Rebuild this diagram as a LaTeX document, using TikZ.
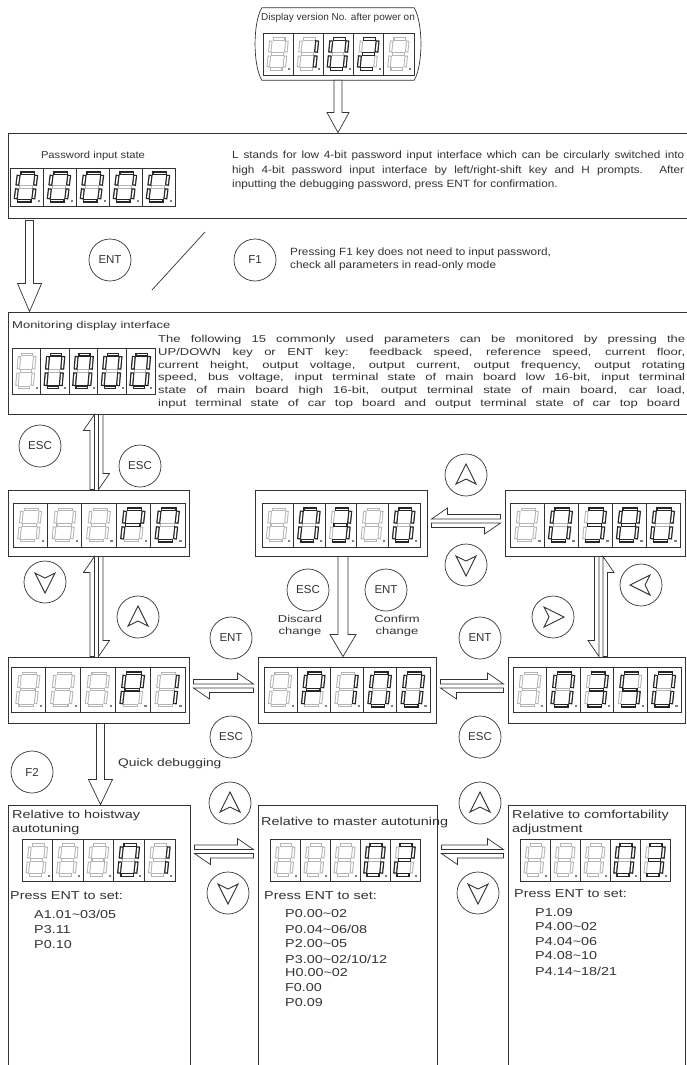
\documentclass[tikz,border=0pt]{standalone}
\usepackage{fontspec}
\setmainfont{Liberation Sans}
\newfontfamily\widesf[FakeStretch=1.25]{Liberation Sans}
\newfontfamily\monsf[FakeStretch=1.3]{Liberation Sans}
\newfontfamily\pwsf[FakeStretch=1.12]{Liberation Sans}
\usetikzlibrary{calc}
\definecolor{ink}{HTML}{333333}
\definecolor{segoffc}{HTML}{B4B4B4}
\tikzset{
 box/.style={draw=ink, line width=0.9pt, rectangle, inner sep=0pt},
 frame/.style={draw=ink, line width=0.7pt},
 key/.style={draw=ink, circle, line width=0.7pt, minimum size=42pt, inner sep=0pt, font=\fontsize{11.5}{12}\selectfont, text=ink},
 harrow/.style={draw=ink, line width=0.7pt, fill=white, line join=miter},
 chev/.style={draw=ink, line width=0.9pt, line join=miter},
 txt/.style={text=ink, inner sep=0pt, font=\pwsf\fontsize{10.5}{12}\selectfont},
 mtxt/.style={text=ink, inner sep=0pt, font=\monsf\fontsize{10}{12}\selectfont},
 wtxt/.style={text=ink, inner sep=0pt, font=\widesf\fontsize{11.5}{13}\selectfont},
 segoff/.style={draw=segoffc, line width=3.4pt, shorten <=1.6pt, shorten >=1.6pt},
 segon/.style={draw=black!85, line width=4pt, shorten <=1.4pt, shorten >=1.4pt},
 seginner/.style={draw=white, line width=1.5pt, shorten <=2.7pt, shorten >=2.7pt},
}
% seven segment template in a 30 x 42 cell
\def\sega{(8,6)--(24,6)}
\def\segb{(24,6)--(22.5,21)}
\def\segc{(22.5,21)--(21,36)}
\def\segd{(5,36)--(21,36)}
\def\sege{(6.5,21)--(5,36)}
\def\segf{(8,6)--(6.5,21)}
\def\segg{(6.5,21)--(22.5,21)}
\def\segn{(0,0)}
\expandafter\def\csname dign\endcsname{n}
\expandafter\def\csname dig0\endcsname{a,b,c,d,e,f}
\expandafter\def\csname dig1\endcsname{b,c}
\expandafter\def\csname dig2\endcsname{a,b,g,e,d}
\expandafter\def\csname dig3\endcsname{a,b,g,c,d}
\expandafter\def\csname dig5\endcsname{a,f,g,c,d}
\expandafter\def\csname dig8\endcsname{a,b,c,d,e,f,g}
\expandafter\def\csname digP\endcsname{a,b,f,g,e}
\expandafter\def\csname digL\endcsname{f,e,d}
\newcommand\sevdisp[5]{%
 \pgfmathsetmacro\cw{#3/5}\pgfmathsetmacro\sx{#3/150}\pgfmathsetmacro\sy{#4/42}%
 \begin{scope}[shift={(#1,#2)}]
  \foreach \dg [count=\i from 0] in {#5}{%
   \begin{scope}[shift={(\i*\cw,0)},xscale=\sx,yscale=\sy]
     \draw[frame] (0,0) rectangle (30,42);
     \foreach \s in {a,b,c,d,e,f,g}{\edef\cur{\csname seg\s\endcsname}\draw[segoff] \cur; \draw[seginner] \cur;}
     \edef\seglist{\csname dig\dg\endcsname}
     \foreach \s in \seglist{\edef\cur{\csname seg\s\endcsname}\draw[segon] \cur; \draw[seginner] \cur;}
     \fill[segoffc!70!black] (25,35.5) rectangle (27,37.5);
   \end{scope}}
 \end{scope}}
% big hollow down arrow: start, end, half shaft, half head, head length
\newcommand\bigdown[5]{%
 \draw[harrow] let \p1=(#1), \p2=(#2) in
  (\x1-#3pt,\y1) -- (\x1-#3pt,\y2+#5pt) -- (\x1-#4pt,\y2+#5pt) -- (\x1,\y2)
  -- (\x1+#4pt,\y2+#5pt) -- (\x1+#3pt,\y2+#5pt) -- (\x1+#3pt,\y1) -- cycle;}
% vertical pair: left up, right down
\newcommand\vpairUD[2]{%
 \draw[harrow] let \p1=(#1), \p2=(#2) in
  (\x1-2pt,\y2) -- (\x1-2pt,\y1) -- (\x1-13pt,\y1-16pt) -- (\x1-6.5pt,\y1-16pt) -- (\x1-6.5pt,\y2) -- cycle
  (\x1+2pt,\y1) -- (\x1+2pt,\y2) -- (\x1+13pt,\y2+16pt) -- (\x1+6.5pt,\y2+16pt) -- (\x1+6.5pt,\y1) -- cycle;}
% vertical pair: left down, right up
\newcommand\vpairDU[2]{%
 \draw[harrow] let \p1=(#1), \p2=(#2) in
  (\x1-2pt,\y1) -- (\x1-2pt,\y2) -- (\x1-13pt,\y2+16pt) -- (\x1-6.5pt,\y2+16pt) -- (\x1-6.5pt,\y1) -- cycle
  (\x1+2pt,\y2) -- (\x1+2pt,\y1) -- (\x1+13pt,\y1-16pt) -- (\x1+6.5pt,\y1-16pt) -- (\x1+6.5pt,\y2) -- cycle;}
% horizontal pair: top right-pointing, bottom left-pointing
\newcommand\hpairRL[2]{%
 \draw[harrow] let \p1=(#1), \p2=(#2) in
  (\x1,\y1+2pt) -- (\x2,\y1+2pt) -- (\x2-16pt,\y1+13pt) -- (\x2-16pt,\y1+6.5pt) -- (\x1,\y1+6.5pt) -- cycle
  (\x2,\y1-2pt) -- (\x1,\y1-2pt) -- (\x1+16pt,\y1-13pt) -- (\x1+16pt,\y1-6.5pt) -- (\x2,\y1-6.5pt) -- cycle;}
% horizontal pair: top left-pointing, bottom right-pointing
\newcommand\hpairLR[2]{%
 \draw[harrow] let \p1=(#1), \p2=(#2) in
  (\x2,\y1+2pt) -- (\x1,\y1+2pt) -- (\x1+16pt,\y1+13pt) -- (\x1+16pt,\y1+6.5pt) -- (\x2,\y1+6.5pt) -- cycle
  (\x1,\y1-2pt) -- (\x2,\y1-2pt) -- (\x2-16pt,\y1-13pt) -- (\x2-16pt,\y1-6.5pt) -- (\x1,\y1-6.5pt) -- cycle;}
\newcommand\chevup[1]{\draw[chev] (#1.center) ++(0,-11) -- ++(10,20) -- ++(-10,-5) -- ++(-10,5) -- cycle;}
\newcommand\chevdown[1]{\draw[chev] (#1.center) ++(0,11) -- ++(10,-20) -- ++(-10,5) -- ++(-10,-5) -- cycle;}
\newcommand\chevleft[1]{\draw[chev] (#1.center) ++(-11,0) -- ++(20,-10) -- ++(-5,10) -- ++(5,10) -- cycle;}
\newcommand\chevright[1]{\draw[chev] (#1.center) ++(11,0) -- ++(-20,-10) -- ++(5,10) -- ++(-5,10) -- cycle;}
\begin{document}
\begin{tikzpicture}[x=1pt,y=-1pt]
\useasboundingbox (0,0) rectangle (687,1065);
\fill[white] (0,0) rectangle (687,1065);

% ---------- top display ----------
\node[inner sep=0pt, minimum width=152pt, minimum height=72pt] (top) at (338,44) {};
\draw[frame] (top.north west) -- (top.north east) .. controls +(9,15) and +(9,-15) .. (top.south east)
  -- (top.south west) .. controls +(-9,-15) and +(-9,15) .. (top.north west);
\node[text=ink, inner sep=0pt, font=\fontsize{10}{11}\selectfont] (toptitle) at (338,18) {Display version No. after power on};
\sevdisp{263}{33}{151}{42}{n,1,0,2,n}

% ---------- password ----------
\node[box, minimum width=692pt, minimum height=85pt] (pw) at (354,175.5) {};
\node[txt, font=\pwsf\fontsize{10}{11}\selectfont] (pwlabel) at (93,156) {Password input state};
\sevdisp{10}{168}{165}{38}{0,0,0,0,0}
\node[txt, anchor=west] (pwt1) at (232,156) {\makebox[452pt][s]{L stands for low 4-bit password input interface which can be circularly switched into}};
\node[txt, anchor=west] (pwt2) at (232,171) {\makebox[452pt][s]{high 4-bit password input interface by left/right-shift key and H prompts. After}};
\node[txt, anchor=west] (pwt3) at (232,185) {inputting the debugging password, press ENT for confirmation.};

\bigdown{top.south}{pw.north}{4}{11}{20}

% ---------- ENT / F1 ----------
\node[box, minimum width=692pt, minimum height=102pt] (mon) at (354,363) {};
\bigdown{$(pw.south west)+(22,2)$}{$(mon.north west)+(22,0)$}{4}{12}{28}
\node[key] (ent1) at (110,260) {ENT};
\draw[frame] (152,290) -- (205,232);
\node[key] (f1) at (255,260) {F1};
\node[txt, anchor=west] (f1t1) at (290,253) {Pressing F1 key does not need to input password,};
\node[txt, anchor=west] (f1t2) at (290,266) {check all parameters in read-only mode};

% ---------- monitoring ----------
\node[mtxt, anchor=west] (montitle) at (12,326) {Monitoring display interface};
\sevdisp{12}{348}{143}{46}{n,0,0,0,0}
\node[mtxt, anchor=west] (m1) at (158,340) {\makebox[527pt][s]{The following 15 commonly used parameters can be monitored by pressing the}};
\node[mtxt, anchor=west] (m2) at (158,352.8) {\makebox[527pt][s]{UP/DOWN key or ENT key: feedback speed, reference speed, current floor,}};
\node[mtxt, anchor=west] (m3) at (158,365.6) {\makebox[527pt][s]{current height, output voltage, output current, output frequency, output rotating}};
\node[mtxt, anchor=west] (m4) at (158,378.4) {\makebox[527pt][s]{speed, bus voltage, input terminal state of main board low 16-bit, input terminal}};
\node[mtxt, anchor=west] (m5) at (158,391.2) {\makebox[527pt][s]{state of main board high 16-bit, output terminal state of main board, car load,}};
\node[mtxt, anchor=west] (m6) at (158,404) {\makebox[522pt][s]{input terminal state of car top board and output terminal state of car top board}};

% ---------- row 1 ----------
\node[box, minimum width=181pt, minimum height=66pt] (L1) at (98.5,523) {};
\node[box, minimum width=172pt, minimum height=66pt] (M1) at (341,523) {};
\node[box, minimum width=180pt, minimum height=66pt] (R1) at (595,523) {};
\sevdisp{13}{503}{172}{44}{n,n,n,P,0}
\sevdisp{262}{503}{158}{44}{n,0,3,n,0}
\sevdisp{510}{503}{170}{44}{n,0,3,8,0}

\node[key] (esc1) at (40,446) {ESC};
\node[key] (esc2) at (140,466) {ESC};
\vpairUD{$(mon.south -| L1.north)+(-2,0)$}{$(L1.north)+(-2,0)$}

\node[key] (upR) at (466,475) {}; \chevup{upR}
\node[key] (dnR) at (466,565) {}; \chevdown{dnR}
\hpairLR{$(M1.east)+(4,-2)$}{$(R1.west)+(-4,-2)$}

% ---------- row 2 ----------
\node[box, minimum width=181pt, minimum height=66pt] (L2) at (98.5,690) {};
\node[box, minimum width=178pt, minimum height=66pt] (M2) at (347,690) {};
\node[box, minimum width=177pt, minimum height=66pt] (R2) at (596.5,690) {};
\sevdisp{11}{667}{174}{45}{n,n,n,P,1}
\sevdisp{264}{667}{166}{45}{n,P,1,0,0}
\sevdisp{513}{667}{168}{45}{n,0,3,5,0}

\node[key] (dnL) at (45,582) {}; \chevdown{dnL}
\node[key] (upL) at (138,617) {}; \chevup{upL}
\vpairUD{$(L1.south)+(-2,0)$}{$(L2.north)+(-2,0)$}

\node[key] (escM) at (308,590) {ESC};
\node[key] (entM) at (386,590) {ENT};
\bigdown{$(M1.south)+(2,0)$}{M2.north}{5}{13}{22}
\node[mtxt, align=center] (discard) at (300,626) {Discard\\change};
\node[mtxt, align=center] (confirm) at (397,626) {Confirm\\change};

\node[key] (entL) at (231,638) {ENT};
\node[key] (entR) at (480,638) {ENT};
\node[key] (lfR) at (641,585) {}; \chevleft{lfR}
\node[key] (rtR) at (553,617) {}; \chevright{rtR}
\vpairDU{$(R1.south)+(6,0)$}{$(R2.north -| R1.south)+(6,0)$}

\hpairRL{$(L2.east)+(4,-4)$}{$(L2.east -| M2.west)+(-4,-4)$}
\hpairRL{$(M2.east)+(4,-4)$}{$(M2.east -| R2.west)+(-4,-4)$}
\node[key] (escL) at (231,737) {ESC};
\node[key] (escR) at (480,737) {ESC};

% ---------- quick debugging ----------
\node[key] (f2) at (32,772) {F2};
\node[box, minimum width=182pt, minimum height=270pt] (B1) at (99,940) {};
\node[box, minimum width=179pt, minimum height=270pt] (B2) at (347.5,940) {};
\node[box, minimum width=177pt, minimum height=270pt] (B3) at (596.5,940) {};
\bigdown{$(L2.south)+(2,0)$}{B1.north}{4}{12}{25}
\node[wtxt, anchor=west, font=\widesf\fontsize{11}{12}\selectfont] (quick) at (118,764) {Quick debugging};

\node[key] (upB1) at (230,803) {}; \chevup{upB1}
\node[key] (dnB1) at (228,893) {}; \chevdown{dnB1}
\node[key] (upB2) at (480,803) {}; \chevup{upB2}
\node[key] (dnB2) at (478,893) {}; \chevdown{dnB2}
\hpairRL{$(B1.north east)+(4,47)$}{$(B1.north east -| B2.west)+(-4,47)$}
\hpairRL{$(B2.north east)+(4,47)$}{$(B2.north east -| B3.west)+(-4,47)$}

\sevdisp{22}{839}{153}{42}{n,n,n,0,1}
\sevdisp{270}{839}{150}{42}{n,n,n,0,2}
\sevdisp{520}{839}{150}{42}{n,n,n,0,3}

\node[wtxt, anchor=west] (b1t1) at (12,816) {Relative to hoistway};
\node[wtxt, anchor=west] (b1t2) at (12,830) {autotuning};
\node[wtxt, anchor=west] (b1p) at (10,896) {Press ENT to set:};
\node[wtxt, anchor=west] (b1l1) at (34,914) {A1.01\textasciitilde03/05};
\node[wtxt, anchor=west] (b1l2) at (34,930) {P3.11};
\node[wtxt, anchor=west] (b1l3) at (34,945) {P0.10};

\node[wtxt, anchor=west] (b2t1) at (261,823) {Relative to master autotuning};
\node[wtxt, anchor=west] (b2p) at (264,896) {Press ENT to set:};
\node[wtxt, anchor=west] (b2l1) at (285,914) {P0.00\textasciitilde02};
\node[wtxt, anchor=west] (b2l2) at (285,929) {P0.04\textasciitilde06/08};
\node[wtxt, anchor=west] (b2l3) at (285,944) {P2.00\textasciitilde05};
\node[wtxt, anchor=west] (b2l4) at (285,959) {P3.00\textasciitilde02/10/12};
\node[wtxt, anchor=west] (b2l5) at (285,973) {H0.00\textasciitilde02};
\node[wtxt, anchor=west] (b2l6) at (285,988) {F0.00};
\node[wtxt, anchor=west] (b2l7) at (285,1003) {P0.09};

\node[wtxt, anchor=west] (b3t1) at (512,816) {Relative to comfortability};
\node[wtxt, anchor=west] (b3t2) at (512,830) {adjustment};
\node[wtxt, anchor=west] (b3p) at (514,894) {Press ENT to set:};
\node[wtxt, anchor=west] (b3l1) at (535,913) {P1.09};
\node[wtxt, anchor=west] (b3l2) at (535,927) {P4.00\textasciitilde02};
\node[wtxt, anchor=west] (b3l3) at (535,942) {P4.04\textasciitilde06};
\node[wtxt, anchor=west] (b3l4) at (535,956) {P4.08\textasciitilde10};
\node[wtxt, anchor=west] (b3l5) at (535,971) {P4.14\textasciitilde18/21};
\end{tikzpicture}
\end{document}
